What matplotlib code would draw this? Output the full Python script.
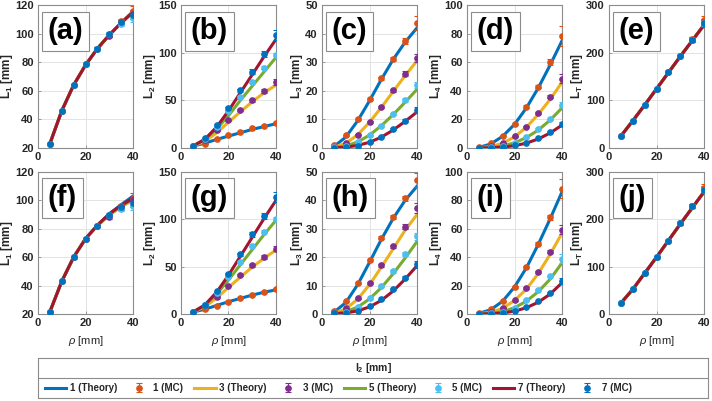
import matplotlib
matplotlib.use("Agg")
import matplotlib.pyplot as plt

plt.rcParams['font.family'] = ['Liberation Sans', 'DejaVu Sans']
plt.rcParams['mathtext.fontset'] = 'custom'
plt.rcParams['mathtext.rm'] = 'Liberation Sans'
plt.rcParams['mathtext.it'] = 'Liberation Sans:italic'
plt.rcParams['mathtext.bf'] = 'Liberation Sans:bold'

# rho [mm]
rho = [5, 10, 15, 20, 25, 30, 35, 40]
l2_values = ['1', '3', '5', '7']

# colours (MATLAB default order)
theory_colors = ['#0072BD', '#EDB120', '#77AC30', '#A2142F']
mc_colors = ['#D95319', '#7E2F8E', '#4DBEEE', '#0072BD']

# ---- top row -------------------------------------------------------------
a_theory = [[23, 46, 64, 78, 89.5, 99, 107.5, 115.5],
            [23, 46, 64, 78, 89.5, 99, 107.5, 115],
            [23, 46, 64, 78, 89.5, 99, 107.5, 115],
            [23, 46, 64, 78, 89.5, 99, 107.5, 115]]
a_mc = [[23, 46, 64, 78.5, 89.5, 99, 108.5, 116],
        [23, 46, 64, 78.5, 89.5, 98.5, 107.5, 114],
        [23, 46, 64, 78.5, 89.5, 100, 107, 111],
        [23, 46, 64, 78.5, 89.5, 99.5, 108, 113]]
a_err = [[0.3, 0.5, 0.6, 0.8, 1, 1.2, 1.5, 3],
         [0.3, 0.5, 0.6, 0.8, 1, 1.2, 1.5, 2.5],
         [0.3, 0.5, 0.6, 0.8, 1, 1.2, 1.5, 3],
         [0.3, 0.5, 0.6, 0.8, 1, 1.2, 1.5, 3]]

b_theory = [[2, 5, 9, 12.5, 16, 19.5, 22.5, 25.5],
            [2, 7, 16, 27, 38, 48.5, 58, 66],
            [2, 9, 20, 34, 50, 65, 80, 95],
            [2, 9, 22, 39, 58, 77, 96, 114]]
b_mc = [[2, 4.5, 9.5, 13.5, 17, 20.5, 23.5, 26.5],
        [2.5, 8, 18.5, 29, 40, 50, 59.5, 69],
        [2, 9, 22, 39, 53.5, 69, 84, 98],
        [2.5, 10.5, 24, 41.5, 60.5, 80, 98.5, 118.5]]
b_err = [[0.2, 0.3, 0.4, 0.5, 0.6, 0.7, 0.8, 1],
         [0.2, 0.4, 0.6, 0.8, 1, 1.5, 2, 3],
         [0.2, 0.4, 0.6, 0.8, 1, 1.2, 1.5, 2],
         [0.2, 0.5, 0.8, 1.2, 1.8, 2.5, 3.5, 5]]

c_theory = [[0.5, 3.8, 9.5, 16.5, 24, 31, 37, 42],
            [0.3, 1.6, 4.6, 9, 14.2, 19.8, 25.3, 30.5],
            [0.1, 0.7, 2.1, 4.5, 7.8, 11.7, 16, 20.5],
            [0.05, 0.3, 0.9, 2, 3.8, 6.3, 9.3, 12.6]]
c_mc = [[1, 4.4, 10.2, 17.2, 24.4, 31.2, 37.4, 43.8],
        [0.4, 1.8, 4.7, 9.1, 14.4, 20.2, 26, 31.5],
        [0.2, 0.8, 2.1, 4.4, 7.8, 12, 16.7, 22],
        [0.1, 0.4, 0.8, 2, 4, 6.7, 9.6, 13.3]]
c_err = [[0.1, 0.2, 0.3, 0.4, 0.5, 0.7, 1.2, 2.5],
         [0.1, 0.1, 0.2, 0.3, 0.4, 0.5, 0.8, 1.5],
         [0.05, 0.1, 0.1, 0.2, 0.3, 0.4, 0.7, 1],
         [0.05, 0.1, 0.1, 0.1, 0.2, 0.3, 0.5, 1.2]]

d_theory = [[0.4, 2.8, 8.2, 16.5, 28, 42, 58, 75],
            [0.1, 1, 3.3, 7.8, 14.5, 23.5, 34, 46],
            [0.05, 0.4, 1.4, 3.6, 7.3, 12.5, 19.5, 28],
            [0, 0.15, 0.6, 1.6, 3.4, 6.3, 10.5, 16]]
d_mc = [[0.5, 3.3, 8.7, 17, 29, 43, 60, 78.5],
        [0.2, 1.2, 3.5, 8.2, 15, 24.6, 36, 48.5],
        [0.1, 0.5, 1.4, 3.5, 7.5, 13.3, 20.4, 30.4],
        [0, 0.2, 0.7, 1.9, 3.7, 6.8, 11, 17]]
d_err = [[0.1, 0.2, 0.4, 0.6, 0.9, 1.2, 2, 7],
         [0.1, 0.1, 0.2, 0.4, 0.6, 0.8, 1.2, 3],
         [0.05, 0.1, 0.1, 0.2, 0.3, 0.5, 0.8, 2],
         [0.05, 0.1, 0.1, 0.1, 0.2, 0.4, 0.6, 1.5]]

e_theory = [[25, 57, 90, 124, 158, 192, 225, 258],
            [25, 57, 90, 124, 158, 192, 225, 258],
            [25, 57, 90, 124, 158, 192, 225, 258],
            [25, 57, 90, 124, 158, 192, 225, 258]]
e_mc = [[25, 57, 90, 124, 159, 193, 228, 268],
        [25, 57, 90, 124, 159, 193, 227, 263],
        [25, 57, 90, 124, 159, 193, 227, 262],
        [25, 57, 90, 124, 159, 193, 227, 262]]
e_err = [[0.5, 0.8, 1, 1.5, 2, 3, 5, 8],
         [0.5, 0.8, 1, 1.5, 2, 3, 4, 6],
         [0.5, 0.8, 1, 1.5, 2, 3, 4, 6],
         [0.5, 0.8, 1, 1.5, 2, 3, 5, 8]]

# ---- bottom row ----------------------------------------------------------
f_theory = [[21.5, 43, 60, 73, 82.5, 90.5, 97, 103],
            [21.5, 43, 60, 73, 82, 89.5, 95.5, 100],
            [21.5, 43, 60, 73, 82.5, 90, 96, 101],
            [21.5, 43, 60, 73, 82.5, 90.5, 96.5, 101.5]]
f_mc = [[21.5, 43, 60, 73, 82, 90, 96, 101],
        [21.5, 43, 60, 73, 82, 88, 95, 100],
        [21.5, 43, 60, 73, 82, 89.5, 94, 96],
        [21.5, 43, 60, 73, 82, 89.5, 95, 98]]
f_err = [[0.3, 0.5, 0.6, 0.8, 1, 1.2, 1.5, 4],
         [0.3, 0.5, 0.6, 0.8, 1, 1.2, 1.5, 3],
         [0.3, 0.5, 0.6, 0.8, 1, 1.2, 1.5, 3],
         [0.3, 0.5, 0.6, 0.8, 1, 1.2, 1.5, 3]]

g_theory = [[2, 5, 9, 13, 16.5, 20, 23, 25.5],
            [2, 7.5, 17, 28, 39, 49.5, 59, 67.5],
            [2, 9, 21, 36, 52, 68, 84, 99],
            [2, 9.5, 23, 41, 61, 81, 101, 120]]
g_mc = [[2, 5, 8.8, 13, 16.5, 20, 23, 26],
        [2, 9.5, 18, 30, 41, 51.6, 60.4, 69],
        [2, 9.5, 22.5, 39, 55, 71.7, 87, 100.8],
        [2.5, 10, 24, 42, 63, 84, 103.6, 123.6]]
g_err = [[0.2, 0.3, 0.4, 0.5, 0.6, 0.7, 0.8, 1],
         [0.2, 0.4, 0.6, 0.8, 1, 1.5, 2, 2.5],
         [0.2, 0.4, 0.6, 0.8, 1, 1.2, 1.5, 2],
         [0.2, 0.5, 0.8, 1.2, 1.8, 2.5, 3.5, 5]]

h_theory = [[0.6, 4, 10.3, 18.2, 26.3, 33.7, 40, 45],
            [0.3, 1.8, 5.2, 10.3, 16.5, 23, 29.5, 35],
            [0.1, 0.8, 2.4, 5.3, 9.3, 14.2, 19.7, 25.5],
            [0.05, 0.35, 1.1, 2.5, 4.8, 8.1, 12.3, 17]]
h_mc = [[1.2, 4.5, 11, 18.9, 26.8, 34, 40.7, 47.2],
        [0.5, 2, 5.5, 10.8, 17.1, 23.9, 30.8, 37.2],
        [0.2, 0.8, 2.6, 5.5, 9.8, 15, 21.2, 27.3],
        [0.2, 0.5, 1, 2.7, 5.2, 8.7, 12.8, 17.5]]
h_err = [[0.1, 0.2, 0.3, 0.4, 0.5, 0.7, 1, 2.5],
         [0.1, 0.1, 0.2, 0.3, 0.4, 0.5, 0.8, 1.8],
         [0.05, 0.1, 0.1, 0.2, 0.3, 0.4, 0.7, 1.3],
         [0.05, 0.1, 0.1, 0.1, 0.2, 0.3, 0.5, 1.3]]

i_theory = [[0.5, 3, 9, 19, 32.5, 49, 67, 86],
            [0.15, 1.2, 4, 9.5, 17.5, 28.5, 42, 57],
            [0.05, 0.5, 1.7, 4.4, 9, 15.7, 24.5, 36],
            [0, 0.2, 0.7, 2, 4.4, 8.3, 14, 22]]
i_mc = [[0.9, 3.3, 9.1, 19.2, 33, 49.6, 68, 88.3],
        [0.3, 1.4, 4.4, 9.8, 18.5, 29.7, 44, 59.5],
        [0.1, 0.6, 1.6, 4.4, 9.6, 16.9, 26.7, 39],
        [0, 0.2, 0.9, 2.3, 4.9, 9.1, 15, 23.2]]
i_err = [[0.1, 0.2, 0.4, 0.6, 0.9, 1.2, 2, 6.5],
         [0.1, 0.1, 0.2, 0.4, 0.6, 0.8, 1.2, 3.5],
         [0.05, 0.1, 0.1, 0.2, 0.3, 0.5, 0.8, 3],
         [0.05, 0.1, 0.1, 0.1, 0.2, 0.4, 0.6, 2]]

j_theory = [[23, 52, 86, 120, 155, 190, 224, 258],
            [23, 52, 86, 120, 155, 190, 224, 258],
            [23, 52, 86, 120, 155, 190, 224, 258],
            [23, 52, 86, 120, 155, 190, 224, 258]]
j_mc = [[23, 52, 86, 120, 155, 192, 228, 266],
        [23, 52, 86, 120, 155, 192, 228, 263],
        [23, 52, 86, 120, 155, 192, 228, 263],
        [23, 52, 86, 120, 155, 192, 228, 263]]
j_err = [[0.5, 0.8, 1, 1.5, 2, 3, 5, 8],
         [0.5, 0.8, 1, 1.5, 2, 3, 4, 6],
         [0.5, 0.8, 1, 1.5, 2, 3, 4, 6],
         [0.5, 0.8, 1, 1.5, 2, 3, 5, 8]]

panels = [
    ('(a)', 'L$_\\mathbf{1}$ [mm]', (20, 120), [20, 40, 60, 80, 100, 120], a_theory, a_mc, a_err),
    ('(b)', 'L$_\\mathbf{2}$ [mm]', (0, 150), [0, 50, 100, 150], b_theory, b_mc, b_err),
    ('(c)', 'L$_\\mathbf{3}$ [mm]', (0, 50), [0, 10, 20, 30, 40, 50], c_theory, c_mc, c_err),
    ('(d)', 'L$_\\mathbf{4}$ [mm]', (0, 100), [0, 20, 40, 60, 80, 100], d_theory, d_mc, d_err),
    ('(e)', 'L$_\\mathbf{T}$ [mm]', (0, 300), [0, 100, 200, 300], e_theory, e_mc, e_err),
    ('(f)', 'L$_\\mathbf{1}$ [mm]', (20, 120), [20, 40, 60, 80, 100, 120], f_theory, f_mc, f_err),
    ('(g)', 'L$_\\mathbf{2}$ [mm]', (0, 150), [0, 50, 100, 150], g_theory, g_mc, g_err),
    ('(h)', 'L$_\\mathbf{3}$ [mm]', (0, 50), [0, 10, 20, 30, 40, 50], h_theory, h_mc, h_err),
    ('(i)', 'L$_\\mathbf{4}$ [mm]', (0, 100), [0, 20, 40, 60, 80, 100], i_theory, i_mc, i_err),
    ('(j)', 'L$_\\mathbf{T}$ [mm]', (0, 300), [0, 100, 200, 300], j_theory, j_mc, j_err),
]

W, H = 712, 401
fig = plt.figure(figsize=(W / 100, H / 100), dpi=100)

lefts = [38, 181, 322, 467, 609]
width = 95
rows = [(5, 148), (172, 314)]

handles = []
for k, (tag, ylab, ylim, yticks, th, mc, err) in enumerate(panels):
    top, bot = rows[k // 5]
    ax = fig.add_axes([lefts[k % 5] / W, 1 - bot / H, width / W, (bot - top) / H])
    hs = []
    for s in range(4):
        ln, = ax.plot(rho, th[s], color=theory_colors[s], lw=2.2, zorder=2,
                      label=l2_values[s] + ' (Theory)')
        eb = ax.errorbar(rho, mc[s], yerr=err[s], fmt='o', color=mc_colors[s],
                         ms=3.8, elinewidth=0.8, capsize=2.5, capthick=0.8, zorder=3,
                         label=l2_values[s] + ' (MC)')
        hs += [ln, eb]
    if k == 0:
        handles = hs
    ax.set_xlim(0, 40)
    ax.set_ylim(*ylim)
    ax.set_xticks([0, 20, 40])
    ax.set_yticks(yticks)
    ax.grid(True, color='#e3e3e3', lw=0.7)
    ax.set_axisbelow(True)
    for sp in ax.spines.values():
        sp.set_color('#8c8c8c')
        sp.set_linewidth(0.8)
    ax.tick_params(direction='in', length=2.5, width=0.6, color='#8c8c8c',
                   labelsize=8, labelcolor='#262626', pad=3)
    for lab in ax.get_xticklabels() + ax.get_yticklabels():
        lab.set_fontweight('bold')
    ax.set_ylabel(ylab, fontsize=8.5, fontweight='bold', color='#262626', labelpad=0.5)
    if k >= 5:
        ax.set_xlabel('$\\rho$ [mm]', fontsize=8, color='#262626', labelpad=4)
    ax.text(0.10, 0.815, tag, transform=ax.transAxes, ha='left', va='center',
            fontsize=21, fontweight='bold', zorder=5,
            bbox=dict(boxstyle='square,pad=0.2', fc='white', ec='#8c8c8c', lw=0.8))

# legend box
lax = fig.add_axes([38 / W, 3 / H, 670 / W, 40 / H])
lax.set_xticks([])
lax.set_yticks([])
for sp in lax.spines.values():
    sp.set_color('#8c8c8c')
    sp.set_linewidth(0.8)
lax.set_xlim(0, 1)
lax.set_ylim(0, 1)
lax.axhline(0.5, color='#8c8c8c', lw=0.8)
lax.text(0.5, 0.75, 'l$_\\mathbf{2}$ [mm]', ha='center', va='center',
         fontsize=7.5, fontweight='bold', color='#262626')
lax.legend(handles, [h.get_label() for h in handles], ncol=8, loc='center left',
           bbox_to_anchor=(0.0, 0.25), frameon=False, handlelength=2.2,
           columnspacing=1.1, handletextpad=0.4, borderpad=0.2,
           prop={'size': 7, 'weight': 'bold'}, labelcolor='#262626')

fig.savefig('out.png', dpi=100)
